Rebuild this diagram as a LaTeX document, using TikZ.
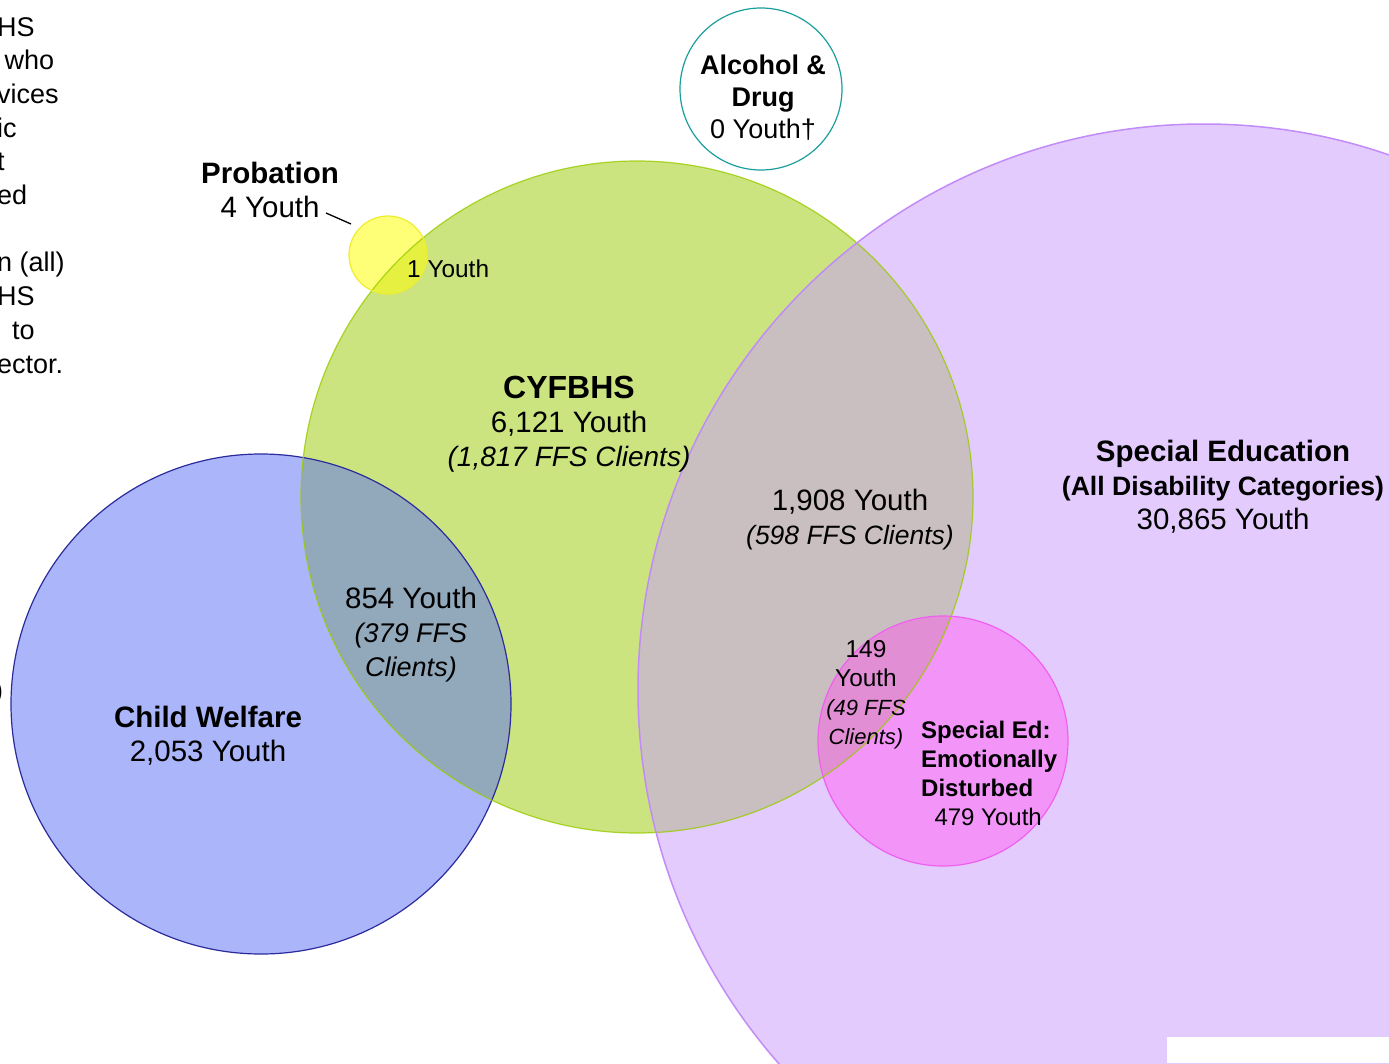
\documentclass[tikz,border=0pt]{standalone}
\usepackage{fontspec}
\setmainfont{Liberation Sans}
\begin{document}
\begin{tikzpicture}[x=1pt,y=-1pt,
  txt/.style={inner sep=0pt, align=center, font=\fontsize{29.5}{34}\selectfont},
  txtl/.style={inner sep=0pt, align=left, font=\fontsize{27}{33.7}\selectfont},
  small/.style={inner sep=0pt, align=center, font=\fontsize{24.4}{27}\selectfont},
]
\definecolor{cgreen}{HTML}{CCE480}
\definecolor{cgreenE}{HTML}{99CC00}
\definecolor{cblue}{HTML}{ABB5FA}
\definecolor{cblueE}{HTML}{2B2B9C}
\definecolor{cbg}{HTML}{92A8BB}
\definecolor{cpurple}{HTML}{E3CBFE}
\definecolor{cpurpleE}{HTML}{C28CF8}
\definecolor{cgp}{HTML}{C9BEC0}
\definecolor{cpink}{HTML}{F294F8}
\definecolor{cpinkE}{HTML}{F060F0}
\definecolor{cpinkO}{HTML}{E28ED5}
\definecolor{cyellow}{HTML}{FFFF77}
\definecolor{cyellowE}{HTML}{EEEE30}
\definecolor{cyg}{HTML}{E6F040}
\definecolor{cteal}{HTML}{1A9E9E}
\useasboundingbox (0,0) rectangle (1389,1063);
\clip (0,0) rectangle (1389,1063);
\fill[white] (0,0) rectangle (1389,1063);
% centres
\coordinate (G) at (637,497);
\coordinate (B) at (261,704);
\coordinate (P) at (1204,690);
\coordinate (Y) at (388,255);
\coordinate (K) at (943,741);
\coordinate (A) at (761,89);
% fills
\fill[cblue] (B) circle (250);
\fill[cgreen] (G) circle (336);
\fill[cpurple] (P) circle (566);
\fill[cyellow] (Y) circle (39);
\begin{scope}
  \clip (B) circle (250);
  \fill[cbg] (G) circle (336);
\end{scope}
\begin{scope}
  \clip (P) circle (566);
  \fill[cgp] (G) circle (336);
\end{scope}
\begin{scope}
  \clip (Y) circle (39);
  \fill[cyg] (G) circle (336);
\end{scope}
\fill[cpink] (K) circle (125);
\begin{scope}
  \clip (K) circle (125);
  \fill[cpinkO] (G) circle (336);
\end{scope}
% outlines
\draw[cblueE, line width=1.2] (B) circle (250);
\draw[cgreenE, line width=1.2, opacity=0.8] (G) circle (336);
\draw[cpurpleE, line width=1.5] (P) circle (566);
\draw[cyellowE, line width=1.2] (Y) circle (39);
\draw[cpinkE, line width=1.2] (K) circle (125);
\draw[cteal, line width=1.2, fill=white] (A) circle (81);
\fill[white] (1167,1037) rectangle (1389,1063);
% left clipped text
\node[txtl, anchor=north west] (lefttext) at (-3,17) {HS\\ \ who\\vices\\ ic\\t\\ed\\[33.7pt]n (all)\\HS\\ \ \ to\\ector.};
\node[txtl, anchor=west] (paren) at (-6,693) {)};
% labels
\node[txt] (prob) at (270,190) {\textbf{Probation}\\4 Youth};
\coordinate (probend) at (351,224);
\draw[black, line width=1.3] (326,213) -- (probend);
\node[small, anchor=west] (oneyouth) at (407,269) {1 Youth};
\node[txt] (cyf) at (569,424) {\fontsize{32}{37}\selectfont\textbf{CYFBHS}\\6,121 Youth\\{\fontsize{28}{34}\selectfont\textit{(1,817 FFS Clients)}}};
\node[txt, font=\fontsize{27}{32}\selectfont] (alc) at (763,98) {\textbf{Alcohol \&}\\\textbf{Drug}\\0 Youth†};
\node[txt] (gp) at (850,520) {1,908 Youth\\{\fontsize{26.5}{33}\selectfont\textit{(598 FFS Clients)}}};
\node[txt] (sped) at (1223,487) {\textbf{Special Education}\\{\fontsize{26.6}{34}\selectfont\textbf{(All Disability Categories)}}\\30,865 Youth};
\node[txt] (bg) at (411,635) {854 Youth\\{\fontsize{27}{32}\selectfont\textit{(379 FFS}}\\{\fontsize{27}{32}\selectfont\textit{Clients)}}};
\node[txt] (cw) at (208,736) {\textbf{Child Welfare}\\2,053 Youth};
\node[small, font=\fontsize{24.4}{29}\selectfont] (ov) at (866,695) {149\\Youth\\{\fontsize{22}{27}\selectfont\textit{(49 FFS}}\\{\fontsize{22}{26}\selectfont\textit{Clients)}}};
\node[txtl, font=\fontsize{24}{29}\selectfont, anchor=north west] (ed) at (921,721) {\textbf{Special Ed:}\\\textbf{Emotionally}\\\textbf{Disturbed}\\\ \ 479 Youth};
\end{tikzpicture}
\end{document}
